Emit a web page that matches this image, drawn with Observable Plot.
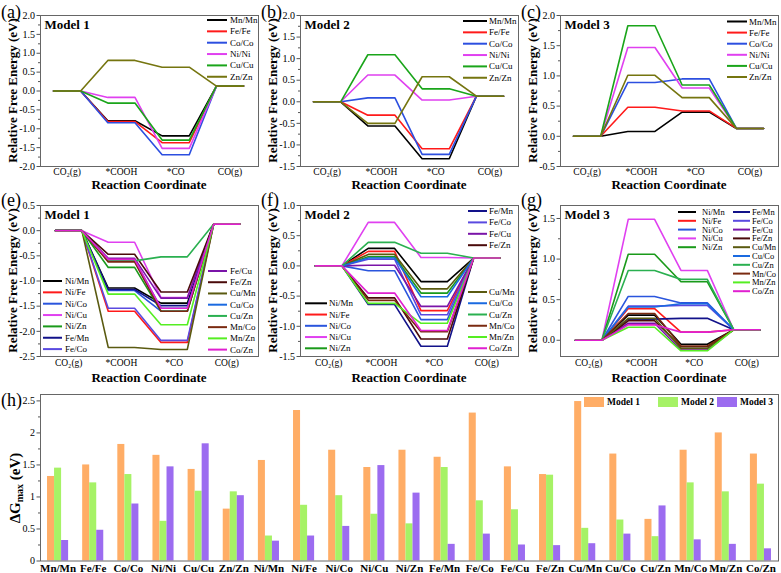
<!DOCTYPE html>
<html>
<head>
<meta charset="utf-8">
<script src="https://cdn.jsdelivr.net/npm/d3@7"></script>
<script src="https://cdn.jsdelivr.net/npm/@observablehq/plot@0.6"></script>
<style>
  html, body { margin: 0; padding: 0; background: #fff; }
  #chart { position: relative; width: 781px; height: 573px; background: #fff; overflow: hidden; font-family: 'Liberation Serif', 'Times New Roman', serif; }
  .plab { position: absolute; font-size: 18px; line-height: 18px; color: #000; }
</style>
</head>
<body>
<div id="chart"></div>
<script>
// ---------------- data ----------------
const states = ["CO₂(g)", "*COOH", "*CO", "CO(g)"];
const COg = 0.13;

const homoPairs = ["Mn/Mn", "Fe/Fe", "Co/Co", "Ni/Ni", "Cu/Cu", "Zn/Zn"];
const homoColors = ["#000000", "#ff1a1a", "#2c4fe0", "#e040f0", "#1aa51a", "#75750f"];

const m1HomoCOOH = [-0.79, -0.81, -0.84, -0.17, -0.32, 0.81];
const m1HomoCO   = [-1.19, -1.37, -1.69, -1.52, -1.30, 0.63];
const m2HomoCOOH = [-0.56, -0.31, 0.09, 0.62, 1.09, -0.50];
const m2HomoCO   = [-1.32, -1.09, -1.22, 0.04, 0.30, 0.58];
const m3HomoCOOH = [0.08, 0.48, 0.89, 1.47, 1.83, 1.01];
const m3HomoCO   = [0.40, 0.42, 0.95, 0.80, 0.85, 0.64];

const heteroPairs = ["Ni/Mn", "Ni/Fe", "Ni/Co", "Ni/Cu", "Ni/Zn", "Fe/Mn", "Fe/Co", "Fe/Cu",
                     "Fe/Zn", "Cu/Mn", "Cu/Co", "Cu/Zn", "Mn/Co", "Mn/Zn", "Co/Zn"];
const heteroColors = ["#000000", "#ff1a1a", "#2a55dd", "#e040f0", "#1a9a1a", "#12128a", "#5a4ae0", "#7a14a8",
                      "#4a0a0a", "#5a5a10", "#1a6ae0", "#2ab050", "#7a2a10", "#55ee22", "#e020d0"];

const m1HetCOOH = [-1.14, -1.60, -1.19, -0.23, -0.73, -1.17, -1.54, -0.55, -0.47, -2.32, -0.58, -0.60, -0.62, -1.26, -0.57];
const m1HetCO   = [-1.44, -2.22, -1.60, -1.33, -1.60, -1.49, -2.18, -1.34, -1.22, -2.36, -1.54, -0.52, -1.60, -1.87, -1.54];
const m2HetCOOH = [0.29, 0.24, -0.08, 0.72, 0.15, -0.64, 0.11, 0.01, -0.53, 0.19, 0.13, 0.39, -0.57, -0.62, -0.45];
const m2HetCO   = [-0.26, -0.74, -0.89, 0.14, -0.45, -1.33, -0.81, -0.67, -1.21, -0.38, -0.51, 0.21, -1.09, -0.95, -1.07];
const m3HetCOOH = [0.31, 0.39, 0.54, 1.49, 1.06, 0.26, 0.42, 0.21, 0.24, 0.27, 0.41, 0.86, 0.33, 0.16, 0.19];
const m3HetCO   = [-0.05, 0.10, 0.46, 0.86, 0.72, 0.27, 0.43, -0.12, -0.08, -0.10, 0.45, 0.75, -0.07, -0.13, 0.10];

const barCats = ["Mn/Mn", "Fe/Fe", "Co/Co", "Ni/Ni", "Cu/Cu", "Zn/Zn", "Ni/Mn", "Ni/Fe", "Ni/Co", "Ni/Cu", "Ni/Zn",
                 "Fe/Mn", "Fe/Co", "Fe/Cu", "Fe/Zn", "Cu/Mn", "Cu/Co", "Cu/Zn", "Mn/Co", "Mn/Zn", "Co/Zn"];
const model1Dg = [1.32, 1.50, 1.82, 1.65, 1.43, 0.81, 1.57, 2.35, 1.73, 1.46, 1.73, 1.62, 2.31, 1.47, 1.35, 2.49, 1.67, 0.65, 1.73, 2.00, 1.67];
const model2Dg = [1.45, 1.22, 1.35, 0.62, 1.09, 1.08, 0.39, 0.87, 1.02, 0.73, 0.58, 1.46, 0.94, 0.80, 1.34, 0.51, 0.64, 0.38, 1.22, 1.08, 1.20];
const model3Dg = [0.32, 0.48, 0.89, 1.47, 1.83, 1.02, 0.31, 0.39, 0.54, 1.49, 1.06, 0.26, 0.42, 0.25, 0.24, 0.27, 0.42, 0.86, 0.33, 0.26, 0.19];
const modelNames = ["Model 1", "Model 2", "Model 3"];
const modelColors = ["#ffad66", "#a6f266", "#9c6cf0"];

// ---------------- helpers ----------------
const FONT = "'Liberation Serif', 'Times New Roman', serif";
const chart = document.getElementById("chart");

function place(node, left, top) {
  const d = document.createElement("div");
  d.style.position = "absolute";
  d.style.left = left + "px";
  d.style.top = top + "px";
  d.appendChild(node);
  chart.appendChild(d);
}
function panelLabel(txt, left, top) {
  const d = document.createElement("div");
  d.className = "plab";
  d.style.left = left + "px";
  d.style.top = top + "px";
  d.textContent = txt;
  chart.appendChild(d);
}
function addLegend(svg, names, colors, o) {
  const g = d3.select(svg).append("g").attr("text-anchor", "start");
  names.forEach((n, i) => {
    const y = o.y0 + i * o.dy;
    g.append("line").attr("x1", o.x1).attr("x2", o.x2).attr("y1", y).attr("y2", y)
      .attr("stroke", colors[i]).attr("stroke-width", 2);
    g.append("text").attr("x", o.tx).attr("y", y).attr("dominant-baseline", "central")
      .attr("text-anchor", "start")
      .attr("font-size", o.fs || 9).attr("fill", "#000").text(n);
  });
}

function energyPanel(cfg) {
  const rows = [];
  cfg.pairs.forEach((p, i) => {
    const levels = [0, cfg.cooh[i], cfg.co[i], COg];
    levels.forEach((v, k) => {
      rows.push({pair: p, x: 2 * k, y: v});
      rows.push({pair: p, x: 2 * k + 1, y: v});
    });
  });
  const svg = Plot.plot({
    width: cfg.width, height: cfg.height,
    marginLeft: 40, marginRight: cfg.marginRight, marginTop: 15, marginBottom: cfg.marginBottom,
    style: {fontFamily: FONT, fontSize: "10px", color: "#000", background: "transparent", overflow: "visible"},
    x: {domain: cfg.xDomain},
    y: {domain: cfg.yDomain},
    color: {domain: cfg.pairs, range: cfg.colors},
    marks: [
      Plot.axisY({ticks: cfg.minor, tickSize: 2, tickFormat: () => "", label: null, stroke: "#555"}),
      Plot.axisY({ticks: cfg.major, tickSize: 3.5, tickPadding: 2, tickFormat: d => d.toFixed(1), label: null, stroke: "#555", fontSize: 10}),
      Plot.axisX({ticks: [0.5, 2.5, 4.5, 6.5], tickSize: 0, tickPadding: cfg.xPad, tickFormat: d => states[Math.round((d - 0.5) / 2)], label: null, fontSize: 9.5}),
      Plot.line(rows, {x: "x", y: "y", z: "pair", stroke: "pair", strokeWidth: 1.6}),
      Plot.frame({stroke: "#666"}),
      Plot.text([cfg.model], {text: d => d, frameAnchor: "top-left", dx: 4, dy: 4, fontWeight: "bold", fontSize: 13})
    ]
  });
  const s = d3.select(svg);
  const fb = cfg.height - cfg.marginBottom;
  s.append("text")
    .attr("transform", `translate(12,${(15 + fb) / 2}) rotate(-90)`)
    .attr("text-anchor", "middle").attr("dominant-baseline", "central")
    .attr("font-weight", "bold").attr("font-size", 13).attr("fill", "#000")
    .text("Relative Free Energy (eV)");
  s.append("text")
    .attr("x", (40 + cfg.width - cfg.marginRight) / 2).attr("y", cfg.rcY)
    .attr("text-anchor", "middle").attr("font-weight", "bold").attr("font-size", 13).attr("fill", "#000")
    .text("Reaction Coordinate");
  return svg;
}

// ---------------- top row ----------------
const topCommon = {height: 192, marginBottom: 26, xDomain: [-0.48, 7.55], xPad: 2, rcY: 189};

const svgA = energyPanel({...topCommon, width: 260, marginRight: 2, pairs: homoPairs, colors: homoColors,
  cooh: m1HomoCOOH, co: m1HomoCO, yDomain: [-2, 2], model: "Model 1",
  major: [-2, -1.5, -1, -0.5, 0, 0.5, 1, 1.5, 2], minor: [-1.75, -1.25, -0.75, -0.25, 0.25, 0.75, 1.25, 1.75]});
addLegend(svgA, homoPairs, homoColors, {x1: 207, x2: 227, tx: 230, y0: 20, dy: 11.35});
place(svgA, 0, 0);

const svgB = energyPanel({...topCommon, width: 260, marginRight: 2, pairs: homoPairs, colors: homoColors,
  cooh: m2HomoCOOH, co: m2HomoCO, yDomain: [-1.5, 2], model: "Model 2",
  major: [-1.5, -1, -0.5, 0, 0.5, 1, 1.5, 2], minor: [-1.25, -0.75, -0.25, 0.25, 0.75, 1.25, 1.75]});
addLegend(svgB, homoPairs, homoColors, {x1: 203, x2: 227, tx: 229, y0: 21, dy: 11.35});
place(svgB, 260, 0);

const svgC = energyPanel({...topCommon, width: 261, marginRight: 3, pairs: homoPairs, colors: homoColors,
  cooh: m3HomoCOOH, co: m3HomoCO, yDomain: [-0.5, 2], model: "Model 3",
  major: [-0.5, 0, 0.5, 1, 1.5, 2], minor: [-0.25, 0.25, 0.75, 1.25, 1.75]});
addLegend(svgC, homoPairs, homoColors, {x1: 207, x2: 227, tx: 229, y0: 21.5, dy: 11.1});
place(svgC, 520, 0);

// ---------------- bottom row ----------------
const botCommon = {height: 195, marginBottom: 29, xDomain: [-0.57, 7.7], xPad: 3, rcY: 192};

const svgE = energyPanel({...botCommon, width: 260, marginRight: 2, pairs: heteroPairs, colors: heteroColors,
  cooh: m1HetCOOH, co: m1HetCO, yDomain: [-2.5, 0.5], model: "Model 1",
  major: [-2.5, -2, -1.5, -1, -0.5, 0, 0.5], minor: [-2.25, -1.75, -1.25, -0.75, -0.25, 0.25]});
addLegend(svgE, heteroPairs.slice(0, 7), heteroColors.slice(0, 7), {x1: 43, x2: 62, tx: 65, y0: 91, dy: 11.35});
addLegend(svgE, heteroPairs.slice(7), heteroColors.slice(7), {x1: 208, x2: 227, tx: 230, y0: 81, dy: 11.23});
place(svgE, 0, 190);

const svgF = energyPanel({...botCommon, width: 260, marginRight: 2, pairs: heteroPairs, colors: heteroColors,
  cooh: m2HetCOOH, co: m2HetCO, yDomain: [-1.5, 1], model: "Model 2",
  major: [-1.5, -1, -0.5, 0, 0.5, 1], minor: [-1.25, -0.75, -0.25, 0.25, 0.75]});
addLegend(svgF, heteroPairs.slice(0, 5), heteroColors.slice(0, 5), {x1: 45, x2: 67, tx: 69, y0: 113.3, dy: 11.25});
addLegend(svgF, heteroPairs.slice(5, 9), heteroColors.slice(5, 9), {x1: 208, x2: 227, tx: 229, y0: 21, dy: 11.4});
addLegend(svgF, heteroPairs.slice(9), heteroColors.slice(9), {x1: 208, x2: 227, tx: 229, y0: 102, dy: 11.25});
place(svgF, 260, 190);

const svgG = energyPanel({...botCommon, width: 261, marginRight: 3, pairs: heteroPairs, colors: heteroColors,
  cooh: m3HetCOOH, co: m3HetCO, yDomain: [-0.2, 1.66], model: "Model 3",
  major: [0, 0.5, 1, 1.5], minor: [0.25, 0.75, 1.25]});
addLegend(svgG, heteroPairs.slice(0, 5), heteroColors.slice(0, 5), {x1: 158, x2: 176, tx: 182, y0: 22, dy: 8.8, fs: 8.5});
addLegend(svgG, heteroPairs.slice(5), heteroColors.slice(5), {x1: 213, x2: 230, tx: 232, y0: 22, dy: 8.8, fs: 8.5});
place(svgG, 520, 190);

// ---------------- bar chart (h) ----------------
const barRows = barCats.map((c, i) => ({cat: c, m1: model1Dg[i], m2: model2Dg[i], m3: model3Dg[i]}));
const hW = 781, hML = 40, hMR = 3;
const step = (hW - hML - hMR) / (barCats.length - 0.4 + 0.4);
const third = step * 0.6 / 3;
const svgH = Plot.plot({
  width: hW, height: 183, marginLeft: hML, marginRight: hMR, marginTop: 4, marginBottom: 12.5,
  style: {fontFamily: FONT, fontSize: "10px", color: "#000", background: "transparent", overflow: "visible"},
  x: {type: "band", domain: barCats, paddingInner: 0.4, paddingOuter: 0.2, round: false},
  y: {domain: [0, 2.6]},
  marks: [
    Plot.barY(barRows, {x: "cat", y: "m1", fill: modelColors[0], insetLeft: 0, insetRight: 2 * third}),
    Plot.barY(barRows, {x: "cat", y: "m2", fill: modelColors[1], insetLeft: third, insetRight: third}),
    Plot.barY(barRows, {x: "cat", y: "m3", fill: modelColors[2], insetLeft: 2 * third, insetRight: 0}),
    Plot.axisY({ticks: [0.25, 0.75, 1.25, 1.75, 2.25], tickSize: 2, tickFormat: () => "", label: null, stroke: "#555"}),
    Plot.axisY({ticks: [0, 0.5, 1, 1.5, 2, 2.5], tickSize: 3.5, tickPadding: 2, tickFormat: d => String(d), label: null, stroke: "#555", fontSize: 10}),
    Plot.axisX({tickSize: 0, tickPadding: 3.5, fontWeight: "bold", fontSize: 11, label: null}),
    Plot.frame({stroke: "#666"})
  ]
});
{
  const s = d3.select(svgH);
  const t = s.append("text").attr("transform", "translate(15,98) rotate(-90)")
    .attr("text-anchor", "middle").attr("dominant-baseline", "central")
    .attr("font-weight", "bold").attr("font-size", 15).attr("fill", "#000");
  t.append("tspan").text("ΔG");
  t.append("tspan").attr("font-size", 10).attr("dy", 4).text("max");
  t.append("tspan").attr("dy", -4).text(" (eV)");
  const lx = [584, 658, 717];
  modelNames.forEach((m, i) => {
    s.append("rect").attr("x", lx[i]).attr("y", 7).attr("width", 20).attr("height", 10).attr("fill", modelColors[i]);
    s.append("text").attr("x", lx[i] + 23).attr("y", 12).attr("dominant-baseline", "central")
      .attr("text-anchor", "start")
      .attr("font-weight", "bold").attr("font-size", 9.5).attr("fill", "#000").text(m);
  });
}
place(svgH, 0, 390);

// ---------------- panel labels ----------------
panelLabel("(a)", 1, 3);
panelLabel("(b)", 261, 3);
panelLabel("(c)", 521, 3);
panelLabel("(e)", 1, 191);
panelLabel("(f)", 261, 191);
panelLabel("(g)", 521, 191);
panelLabel("(h)", 1, 391);
</script>
</body>
</html>
